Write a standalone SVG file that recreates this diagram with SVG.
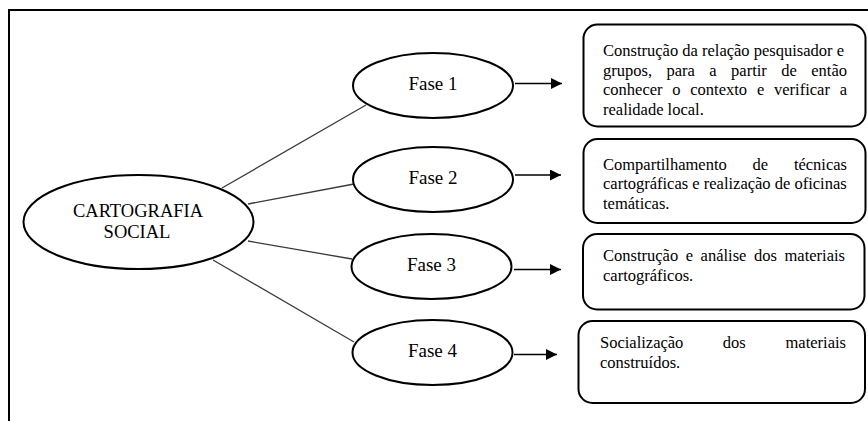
<svg xmlns="http://www.w3.org/2000/svg" width="868" height="421" viewBox="0 0 868 421">
<style>
.bg{fill:#ffffff}
.frame{fill:none;stroke:#000;stroke-width:2}
.ell{fill:#fff;stroke:#000;stroke-width:2}
.box{fill:#fff;stroke:#000;stroke-width:2}
.conn{stroke:#3a3a3a;stroke-width:1.3;fill:none}
.arr{stroke:#000;stroke-width:1.3;fill:none}
.big{font-family:"Liberation Serif","Times New Roman",serif;font-size:18.5px;fill:#000}
.ph{font-family:"Liberation Serif","Times New Roman",serif;font-size:19px;fill:#000;text-anchor:middle}
.t{font-family:"Liberation Serif","Times New Roman",serif;font-size:16.5px;fill:#000}
</style>
<defs>
<marker id="ah" markerWidth="11" markerHeight="11" refX="11" refY="5.5" orient="auto" markerUnits="userSpaceOnUse">
<path d="M0,0 L11,5.5 L0,11 Z" fill="#000"/>
</marker>
</defs>
<rect class="bg" x="0" y="0" width="868" height="421"/>
<path class="frame" d="M9,421 L9,10 L868,10"/>

<g id="connectors">
<line class="conn" x1="222" y1="188" x2="366" y2="105"/>
<line class="conn" x1="248" y1="204" x2="354" y2="184"/>
<line class="conn" x1="248" y1="241" x2="352" y2="259"/>
<line class="conn" x1="213" y1="260" x2="354" y2="342"/>
<line class="arr" x1="515" y1="83.5" x2="562" y2="83.5" marker-end="url(#ah)"/>
<line class="arr" x1="515" y1="175" x2="561" y2="175" marker-end="url(#ah)"/>
<line class="arr" x1="514" y1="269.5" x2="561" y2="269.5" marker-end="url(#ah)"/>
<line class="arr" x1="514" y1="354.5" x2="557" y2="354.5" marker-end="url(#ah)"/>
</g>

<g id="cartografia">
<ellipse class="ell" cx="138.5" cy="222" rx="115" ry="47"/>
<text class="big" x="138" y="217" text-anchor="middle">CARTOGRAFIA</text>
<text class="big" x="137" y="238" text-anchor="middle">SOCIAL</text>
</g>

<g id="fase1">
<ellipse class="ell" cx="433" cy="85.5" rx="80" ry="32.5"/>
<text class="ph" x="433" y="89.5">Fase 1</text>
</g>
<g id="fase2">
<ellipse class="ell" cx="433" cy="179.5" rx="80" ry="32.5"/>
<text class="ph" x="433" y="183.5">Fase 2</text>
</g>
<g id="fase3">
<ellipse class="ell" cx="431.5" cy="266.5" rx="80" ry="32.5"/>
<text class="ph" x="431.5" y="270.5">Fase 3</text>
</g>
<g id="fase4">
<ellipse class="ell" cx="432.5" cy="352.5" rx="80" ry="32.5"/>
<text class="ph" x="432.5" y="356.5">Fase 4</text>
</g>

<g id="box1">
<rect class="box" x="583.5" y="24.5" width="282" height="102" rx="14" ry="14"/>
<text class="t" x="603" y="56">Construção da relação pesquisador e</text>
<text class="t" y="75.5"><tspan x="603">grupos,</tspan><tspan x="666.5">para</tspan><tspan x="709.3">a</tspan><tspan x="731.1">partir</tspan><tspan x="781.3">de</tspan><tspan x="811.3">então</tspan></text>
<text class="t" y="95"><tspan x="603">conhecer</tspan><tspan x="672.3">o</tspan><tspan x="690.3">contexto</tspan><tspan x="756.9">e</tspan><tspan x="774">verificar</tspan><tspan x="839.7">a</tspan></text>
<text class="t" x="603" y="114.5">realidade local.</text>
</g>

<g id="box2">
<rect class="box" x="583.5" y="139" width="282" height="84" rx="14" ry="14"/>
<text class="t" y="170"><tspan x="603">Compartilhamento</tspan><tspan x="752.5">de</tspan><tspan x="793.9">técnicas</tspan></text>
<text class="t" x="603" y="189.3">cartográficas e realização de oficinas</text>
<text class="t" x="603" y="208.5">temáticas.</text>
</g>

<g id="box3">
<rect class="box" x="583" y="234" width="281.5" height="75.5" rx="14" ry="14"/>
<text class="t" y="260.7"><tspan x="603">Construção</tspan><tspan x="685.7">e</tspan><tspan x="700.6">análise</tspan><tspan x="754">dos</tspan><tspan x="784.5">materiais</tspan></text>
<text class="t" x="603" y="280.5">cartográficos.</text>
</g>

<g id="box4">
<rect class="box" x="578.5" y="321" width="286.5" height="82" rx="14" ry="14"/>
<text class="t" y="348.3"><tspan x="600">Socialização</tspan><tspan x="722.8">dos</tspan><tspan x="785.5">materiais</tspan></text>
<text class="t" x="600" y="368.3">construídos.</text>
</g>
</svg>
